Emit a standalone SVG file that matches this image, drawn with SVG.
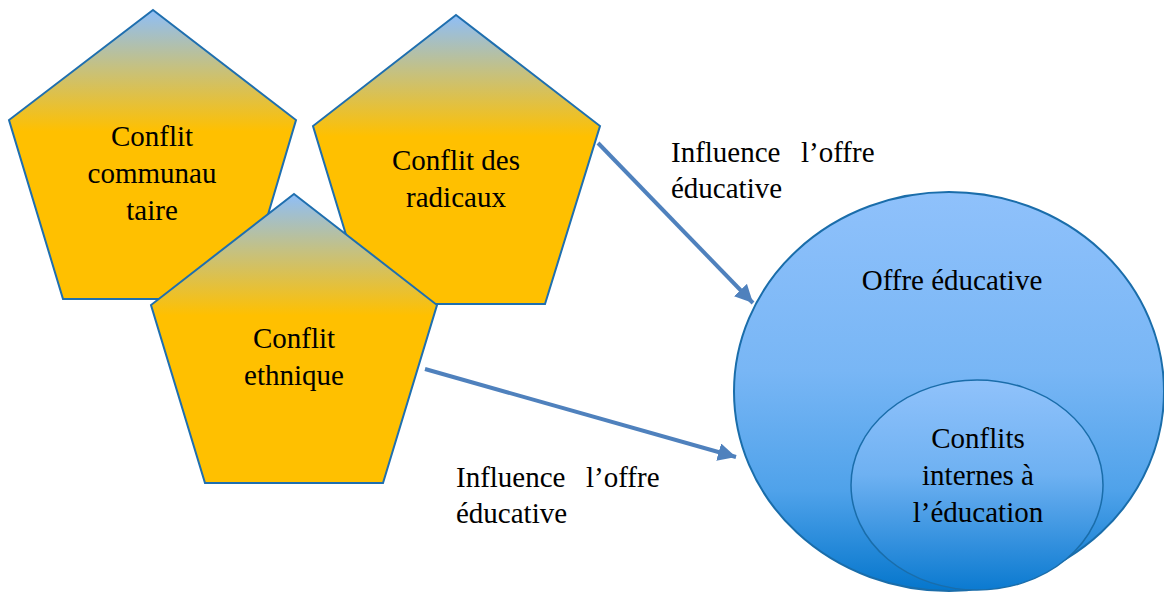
<svg xmlns="http://www.w3.org/2000/svg" width="1164" height="592" viewBox="0 0 1164 592">
  <defs>
    <linearGradient id="penta-fill" x1="0" y1="0" x2="0" y2="1">
      <stop offset="0" stop-color="#8EBEF8"/>
      <stop offset="0.2" stop-color="#C6C17F"/>
      <stop offset="0.42" stop-color="#FFC000"/>
      <stop offset="1" stop-color="#FFC000"/>
    </linearGradient>
    <linearGradient id="outer-fill" x1="0" y1="0" x2="0" y2="1">
      <stop offset="0" stop-color="#8FC1FB"/>
      <stop offset="0.45" stop-color="#78B6F5"/>
      <stop offset="0.75" stop-color="#4FA2EA"/>
      <stop offset="1" stop-color="#0576CC"/>
    </linearGradient>
    <linearGradient id="inner-fill" x1="0" y1="0" x2="0" y2="1">
      <stop offset="0" stop-color="#90C2FB"/>
      <stop offset="0.45" stop-color="#6EB1F2"/>
      <stop offset="1" stop-color="#0B7AD0"/>
    </linearGradient>
    <marker id="arrowhead" markerUnits="userSpaceOnUse" markerWidth="20" markerHeight="18" refX="18" refY="9" orient="auto">
      <path d="M0,0 L18,9 L0,18 z" fill="#4F81BD"/>
    </marker>
    <style>
      .penta { fill: url(#penta-fill); stroke: #1F6FAF; stroke-width: 2; stroke-linejoin: miter; }
      .circle-outer { fill: url(#outer-fill); stroke: #1A6DAA; stroke-width: 2; }
      .circle-inner { fill: url(#inner-fill); stroke: #1A6DAA; stroke-width: 1.5; }
      .lbl { font-family: "Liberation Serif", "Times New Roman", serif; font-size: 29px; fill: #000; }
      .mid { text-anchor: middle; }
      .conn { stroke: #4F81BD; stroke-width: 4; fill: none; marker-end: url(#arrowhead); }
    </style>
  </defs>

  <rect width="1164" height="592" fill="#FFFFFF"/>

  <!-- outer circle and nested inner circle -->
  <g id="offre-educative">
    <ellipse class="circle-outer" cx="949" cy="391.5" rx="215" ry="199.5"/>
    <text class="lbl mid" x="952" y="290">Offre éducative</text>
  </g>
  <g id="conflits-internes">
    <ellipse class="circle-inner" cx="977" cy="485" rx="126" ry="105"/>
    <text class="lbl mid" x="978" y="448">Conflits</text>
    <text class="lbl mid" x="978" y="485">internes à</text>
    <text class="lbl mid" x="978" y="522">l’éducation</text>
  </g>

  <!-- pentagons -->
  <g id="conflit-communautaire">
    <polygon class="penta" points="153,10 296,120 243,299 63,299 9,120"/>
    <text class="lbl mid" x="152" y="146">Conflit</text>
    <text class="lbl mid" x="152" y="183">communau</text>
    <text class="lbl mid" x="152" y="220">taire</text>
  </g>
  <g id="conflit-radicaux">
    <polygon class="penta" points="456,15 600,126 545,304 367,304 313,126"/>
    <text class="lbl mid" x="456" y="170">Conflit des</text>
    <text class="lbl mid" x="456" y="207">radicaux</text>
  </g>
  <g id="conflit-ethnique">
    <polygon class="penta" points="294,194 437,305 383,483 205,483 151,305"/>
    <text class="lbl mid" x="294" y="348">Conflit</text>
    <text class="lbl mid" x="294" y="385">ethnique</text>
  </g>

  <!-- connectors -->
  <g id="connectors">
    <line class="conn" x1="598" y1="143" x2="753" y2="303"/>
    <line class="conn" x1="425" y1="369" x2="736" y2="457"/>
    <text class="lbl" y="162"><tspan x="671">Influence</tspan><tspan x="801">l’offre</tspan></text>
    <text class="lbl" x="671" y="198">éducative</text>
    <text class="lbl" y="487"><tspan x="456">Influence</tspan><tspan x="586">l’offre</tspan></text>
    <text class="lbl" x="456" y="523">éducative</text>
  </g>
</svg>
